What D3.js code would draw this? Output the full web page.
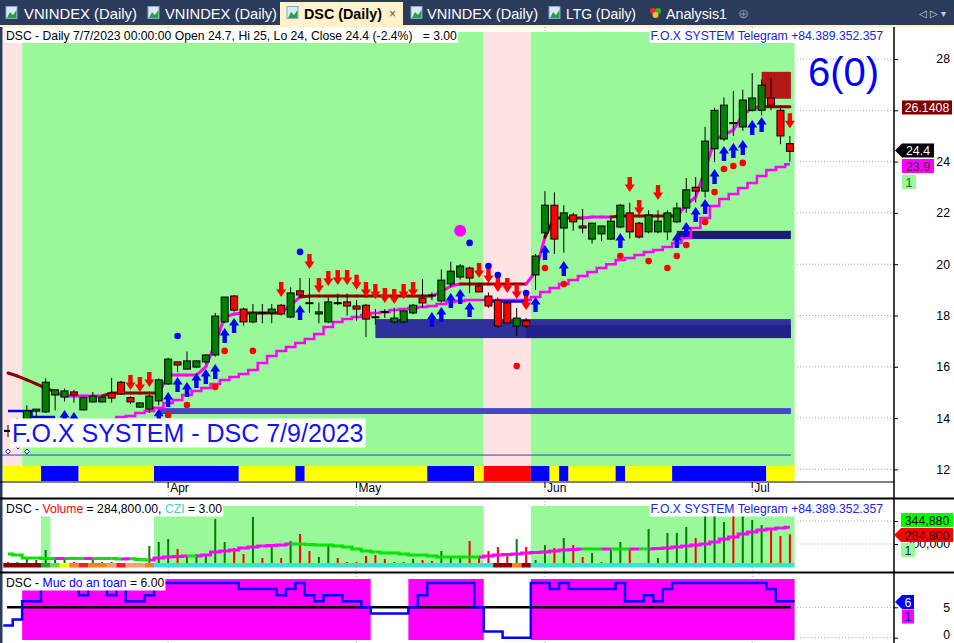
<!DOCTYPE html>
<html>
<head>
<meta charset="utf-8">
<script src="https://cdn.jsdelivr.net/npm/d3@7"></script>
<style>
  body { margin: 0; background: #fff; overflow: hidden; }
  svg { display: block; }
  text { font-family: "Liberation Sans", Arial, sans-serif; }
</style>
</head>
<body>
<div id="viz"></div>
<script>
// ---------- data ----------
var dates = [
  "2023-03-09","2023-03-10","2023-03-13","2023-03-14","2023-03-15","2023-03-16","2023-03-17","2023-03-20","2023-03-21","2023-03-22",
  "2023-03-23","2023-03-24","2023-03-27","2023-03-28","2023-03-29","2023-03-30","2023-03-31",
  "2023-04-03","2023-04-04","2023-04-05","2023-04-06","2023-04-07","2023-04-10","2023-04-11","2023-04-12","2023-04-13","2023-04-14",
  "2023-04-17","2023-04-18","2023-04-19","2023-04-20","2023-04-21","2023-04-24","2023-04-25","2023-04-26","2023-04-27","2023-04-28",
  "2023-05-04","2023-05-05","2023-05-08","2023-05-09","2023-05-10","2023-05-11","2023-05-12","2023-05-15","2023-05-16","2023-05-17",
  "2023-05-18","2023-05-19","2023-05-22","2023-05-23","2023-05-24","2023-05-25","2023-05-26","2023-05-29","2023-05-30","2023-05-31",
  "2023-06-01","2023-06-02","2023-06-05","2023-06-06","2023-06-07","2023-06-08","2023-06-09","2023-06-12","2023-06-13","2023-06-14",
  "2023-06-15","2023-06-16","2023-06-19","2023-06-20","2023-06-21","2023-06-22","2023-06-23","2023-06-26","2023-06-27","2023-06-28",
  "2023-06-29","2023-06-30","2023-07-03","2023-07-04","2023-07-05","2023-07-06","2023-07-07"
];
var monthStarts = ["2023-04-03", "2023-05-04", "2023-06-01", "2023-07-03"];
var monthLabels = ["Apr", "May", "Jun", "Jul"];

var open = [
  13.52,13.6,13.9,14.27,14.24,14.9,14.82,15.02,14.32,14.63,
  14.63,14.98,15.4,14.8,14.43,14.35,14.67,15.33,16.19,15.91,
  15.99,16.19,16.46,17.75,18.76,18.25,17.75,18.12,18.1,18.4,
  17.94,18.96,18.5,18.06,17.75,18.5,18.53,18.37,18.4,17.95,
  18.15,17.75,17.75,18.1,18.68,18.8,18.57,19.23,19.5,19.85,
  19.15,18.76,18.6,18.49,17.59,17.79,19.58,21.22,22.3,21.41,
  21.92,21.49,20.98,21.18,20.98,21.45,22.0,21.6,21.26,21.26,
  21.26,21.65,22.19,23.0,22.85,24.5,24.88,25.52,25.35,26.0,
  26.0,26.48,26.0,24.7];
var high = [
  13.73,14.0,14.5,14.35,15.55,15.1,15.15,15.1,14.85,15.02,
  14.85,15.57,15.45,14.85,14.62,14.9,15.55,16.35,16.2,16.6,
  16.26,16.5,18.1,18.72,18.8,18.3,18.45,18.45,18.45,18.45,
  19.1,19.46,19.46,18.5,18.7,18.85,18.85,18.6,18.45,18.25,
  18.25,18.3,18.2,18.45,19.42,18.9,19.8,20.1,20.0,19.9,
  19.2,18.9,18.7,18.55,18.29,17.9,20.4,22.85,22.8,22.3,
  22.0,22.15,21.6,21.5,21.8,22.35,22.4,21.65,22.1,22.1,
  22.1,22.4,23.36,23.4,25.35,26.1,26.5,26.75,26.8,27.45,
  27.2,27.26,26.1,25.0];
var low = [
  13.26,13.5,13.8,14.0,14.2,14.3,14.65,14.6,14.3,14.6,
  14.6,14.6,14.9,14.55,14.4,14.2,14.5,15.3,15.8,15.9,
  15.95,16.1,16.4,17.7,18.15,17.6,17.7,17.7,17.7,18.0,
  17.9,18.7,18.1,17.7,17.7,18.4,18.0,17.8,17.16,17.65,
  17.9,17.7,17.7,18.05,18.3,18.6,18.5,19.1,19.4,18.88,
  18.9,18.3,17.5,17.7,17.2,17.5,19.0,21.0,20.4,20.45,
  21.3,21.2,20.8,20.9,20.95,21.4,21.0,21.0,21.2,21.2,
  20.95,21.6,22.0,22.4,22.6,23.98,24.8,25.0,25.2,25.95,
  25.8,26.0,24.68,24.0];
var close = [
  13.5,13.9,14.28,14.35,15.4,15.1,15.06,14.9,14.8,14.86,
  14.82,14.78,14.94,14.63,14.59,14.86,15.49,16.3,16.07,16.23,
  16.23,16.46,17.98,18.72,18.21,17.75,18.1,18.1,18.25,18.06,
  18.88,18.8,18.49,18.14,18.53,18.49,18.37,18.25,17.86,17.94,
  18.14,17.9,18.18,18.4,18.49,18.79,19.38,19.73,19.93,19.46,
  18.92,18.37,17.59,17.71,17.9,17.59,20.32,22.3,20.98,22.0,
  21.65,21.41,21.6,21.49,21.68,22.3,21.26,21.06,21.92,21.68,
  22.0,22.19,22.9,22.85,24.8,26.0,26.2,25.5,26.4,26.48,
  26.98,26.2,25.0,24.4];

// resistance line (brown / magenta) and trailing stop staircase
var upperLine = [
  15.76,15.64,15.49,15.33,15.17,15.02,14.86,14.86,14.86,14.86,
  14.86,14.98,14.98,14.98,14.98,14.98,14.98,15.68,15.68,15.68,
  15.68,16.0,16.93,17.94,18.06,18.1,18.1,18.1,18.1,18.1,
  18.4,18.72,18.76,18.76,18.76,18.76,18.76,18.76,18.76,18.76,
  18.76,18.76,18.76,18.76,18.76,18.76,18.92,19.15,19.23,19.23,
  19.23,19.23,19.23,19.23,19.23,19.23,19.7,21.06,21.8,21.8,
  21.8,21.8,21.84,21.84,21.84,21.88,21.88,21.88,21.88,21.88,
  21.88,21.88,22.3,22.62,23.67,24.84,25.04,25.23,25.82,26.09,
  26.14,26.1408,26.1408,26.1408];
var upperColorRuns = [["b",6],["m",5],["b",6],["m",9],["b",4],["m",2],["b",14],["m",3],["b",7],["m",2],["b",4],["m",3],["b",7],["m",9],["b",3]];
var lowerLine = [
  null,null,null,null,null,null,null,null,null,null,
  13.85,13.93,14.04,14.08,14.2,14.28,14.4,14.59,14.71,14.9,
  15.06,15.17,15.33,15.49,15.6,15.72,15.88,16.15,16.42,16.62,
  16.77,16.93,17.08,17.28,17.55,17.75,17.86,17.94,18.02,18.1,
  18.14,18.21,18.25,18.29,18.33,18.37,18.45,18.53,18.57,18.6,
  18.6,18.6,18.6,18.6,18.6,18.6,18.72,18.92,19.07,19.23,
  19.38,19.54,19.7,19.85,20.0,20.16,20.24,20.36,20.48,20.55,
  20.67,20.83,21.02,21.41,21.8,22.27,22.54,22.74,22.97,23.17,
  23.44,23.67,23.79,23.9];
var blueLineIdx = [0,1,2,3,4,5,51,52,53,54,55];
var blueLineVal = [14.28,14.28,14.28,14.04,14.04,14.04,18.55,18.55,18.55,18.55,18.55];

// signals
var sellIdx = [13,14,15,29,32,33,34,35,36,37,38,39,40,41,42,43,50,51,52,53,54,55,66,67,69,83];
var sellTip = [15.1,15.02,15.21,18.72,19.81,18.88,19.15,19.19,19.19,19.0,18.72,18.64,18.49,18.45,18.64,18.72,19.46,19.27,18.92,18.88,18.64,18.21,22.81,21.92,22.5,25.3];
var buyIdx = [6,7,16,17,18,19,20,21,22,23,24,31,45,46,47,48,49,56,57,59,65,71,72,73,74,75,76,77,78,79,80];
var buyTip = [14.32,14.24,14.36,15.02,15.6,15.41,15.76,15.91,16.11,17.51,17.9,18.41,18.14,18.33,18.88,19.03,18.53,18.72,20.75,20.12,21.22,21.22,21.65,22.23,22.54,23.71,24.61,24.73,24.84,25.62,25.74];
var redDotIdx = [17,19,22,23,26,54,57,59,65,68,70,71,72,74,75,76,77,78];
var redDotVal = [14.12,14.51,15.21,16.62,16.62,16.03,19.85,19.23,20.32,20.12,19.85,20.32,20.75,21.65,22.81,23.71,23.83,23.95];
var blueDotIdx = [18,31,49,51,52,55];
var blueDotVal = [17.2,20.48,20.83,19.93,19.58,18.88];
var bigDotIdx = 48, bigDotVal = 21.3;

// support zones: from bar, to bar, low, high
var zoneFrom = [16, 39, 55, 71];
var zoneTo   = [83, 83, 83, 83];
var zoneLo   = [14.16, 17.12, 17.12, 20.98];
var zoneHi   = [14.39, 17.86, 17.62, 21.3];
var zoneFill = ["#4646c8", "#30309c", "#22228a", "#1c1c78"];
var boxFrom = 80, boxTo = 83, boxLo = 26.45, boxHi = 27.5;
var baseLineVal = 12.56;

// background states
var pinkZones = [[0, 1], [51, 55]];
var stripRuns = [["y",4],["b",4],["y",8],["b",9],["y",6],["b",1],["y",13],["b",5],["y",1],["r",5],["b",2],["y",1],["b",1],["y",5],["b",1],["y",5],["b",10],["y",3]];

// volume panel
var volume = [
  43000,43000,78000,61000,148000,70000,78000,43000,35000,61000,
  43000,43000,35000,35000,35000,183000,217000,243000,157000,96000,
  113000,96000,417000,217000,165000,113000,435000,78000,174000,78000,
  226000,287000,139000,87000,200000,78000,43000,43000,96000,104000,
  70000,43000,43000,70000,61000,52000,139000,87000,78000,226000,
  78000,139000,174000,122000,243000,174000,61000,191000,165000,252000,
  191000,87000,122000,43000,165000,217000,165000,35000,330000,78000,
  296000,296000,348000,252000,460000,470000,391000,450000,455000,409000,
  365000,322000,270000,284800];
var volMA = [
  113000,104000,78000,78000,74000,74000,75000,74000,74000,75000,
  74000,74000,70000,71000,65000,61000,78000,87000,91000,96000,
  96000,104000,130000,139000,148000,165000,174000,183000,187000,191000,
  200000,200000,196000,191000,191000,183000,174000,157000,139000,130000,
  122000,122000,113000,104000,104000,96000,87000,87000,87000,87000,
  87000,96000,104000,109000,113000,122000,126000,130000,139000,148000,
  152000,157000,157000,156000,157000,157000,156000,157000,157000,161000,
  165000,174000,183000,191000,200000,217000,243000,261000,287000,304000,
  322000,330000,339000,344880];
var volGreenZones = [[4, 4], [16, 50], [56, 83]];
var cziRuns = [["dr",4],["g",1],["lg",1],["y",1],["o",1],["r",1],["o",2],["s",1],["r",1],["s",2],["o",1],["c",36],["dr",2],["o",1],["dr",1],["c",28]];

// safety level panel (Muc do an toan)
var safety = [
  2,3,6,6,9,9,9,9,7,9,
  9,7,9,6,6,7,9,9,9,9,
  9,9,9,9,9,8,8,8,8,7,
  8,9,7,6,7,7,6,6,5,4,
  4,4,4,5,7,9,9,9,9,9,
  5,1,1,0,0,0,9,9,8,9,
  8,8,8,8,8,9,6,6,7,6,
  8,9,9,9,9,9,9,9,9,9,
  9,8,6,6];

var priceTicks = [12, 14, 16, 18, 20, 22, 24, 26, 28];
var volTicks = [200000, 400000];
var safetyTicks = [0, 5];
var tabs = ["VNINDEX (Daily)", "VNINDEX (Daily)", "DSC (Daily)", "VNINDEX (Daily)", "LTG (Daily)", "Analysis1"];

// ---------- helpers ----------
function expand(runs) {
  var out = [];
  runs.forEach(function(r) { for (var k = 0; k < r[1]; k++) out.push(r[0]); });
  return out;
}
function toRuns(codes) {
  var r = [];
  codes.forEach(function(c, i) {
    var last = r[r.length - 1];
    if (last && last.c === c) last.b = i; else r.push({c: c, a: i, b: i});
  });
  return r;
}
function inZones(i, zones) {
  return zones.some(function(z) { return i >= z[0] && i <= z[1]; });
}

var W = 954, H = 643, N = dates.length;
var FONT = '"Liberation Sans", Arial, sans-serif';

var svg = d3.select("#viz").append("svg").attr("width", W).attr("height", H);
svg.append("rect").attr("width", W).attr("height", H).attr("fill", "#fff");

var x = d3.scaleBand().domain(dates).range([3.3, 794.6]);
var bw = x.bandwidth();
function cx(i) { return x(dates[i]) + bw / 2; }
function left(i) { return x(dates[i]); }

var yP = d3.scaleLinear().domain([12, 28]).range([469.4, 59]);
var yV = d3.scaleLinear().domain([0, 400000]).range([567, 521]);
var yS = d3.scaleLinear().domain([0, 5]).range([637.7, 607.3]);

// ---------- tab bar ----------
svg.append("rect").attr("width", W).attr("height", 25).attr("fill", "#2b3b5c");
svg.append("rect").attr("x", 280).attr("y", 2).attr("width", 123).attr("height", 25).attr("fill", "#fff2c6");
svg.append("rect").attr("y", 25).attr("width", W).attr("height", 2.5).attr("fill", "#fff2c6");

var tabX = [6, 148, 287, 411, 549, 651];
var tabTextX = [24, 165, 304, 427, 566, 666];
var tabTextW = [113, 112, 78, 111, 70, 61];
tabs.forEach(function(t, k) {
  var active = k === 2;
  if (k < 5) {
    svg.append("rect").attr("x", tabX[k]).attr("y", 6.5).attr("width", 11).attr("height", 12)
      .attr("fill", "#dbe8f8").attr("stroke", "#7ea6d8").attr("stroke-width", 1);
    svg.append("path").attr("d", "M" + (tabX[k] + 1) + ",18 L" + (tabX[k] + 4) + ",12 L" + (tabX[k] + 7) + ",15 L" + (tabX[k] + 10.5) + ",10 L" + (tabX[k] + 10.5) + ",18 Z")
      .attr("fill", "#2e9e3e");
  } else {
    svg.append("circle").attr("cx", tabX[k] + 2).attr("cy", 11).attr("r", 3).attr("fill", "#e03030");
    svg.append("circle").attr("cx", tabX[k] + 7).attr("cy", 11).attr("r", 3).attr("fill", "#30b030");
    svg.append("circle").attr("cx", tabX[k] + 4.5).attr("cy", 15).attr("r", 3).attr("fill", "#f0c020");
  }
  svg.append("text").attr("x", tabTextX[k]).attr("y", 18.5)
    .attr("font-family", '"Noto Sans", "Open Sans", sans-serif')
    .attr("font-size", 14).attr("font-weight", active ? "bold" : "normal")
    .attr("fill", active ? "#000" : "#fff")
    .attr("textLength", tabTextW[k]).attr("lengthAdjust", "spacingAndGlyphs")
    .text(t);
});
svg.append("text").attr("x", 389).attr("y", 18).attr("font-size", 12).attr("fill", "#555").text("\u00d7");
svg.append("text").attr("x", 738).attr("y", 18).attr("font-size", 13).attr("fill", "#8090a8").text("\u2295");
svg.append("text").attr("x", 919).attr("y", 17).attr("font-size", 10).attr("fill", "#c8d0e0").text("\u25c1 \u25b7 \u25be");

// ---------- month dotted verticals ----------
svg.selectAll("line.mgrid").data(monthStarts).enter().append("line")
  .attr("x1", function(d) { return x(d) + bw / 2; }).attr("x2", function(d) { return x(d) + bw / 2; })
  .attr("y1", 27).attr("y2", H)
  .attr("stroke", "#aaa").attr("stroke-dasharray", "1,2");

// ---------- main panel backgrounds ----------
var bgCodes = dates.map(function(d, i) { return inZones(i, pinkZones) ? "p" : "g"; });
svg.selectAll("rect.bg").data(toRuns(bgCodes)).enter().append("rect")
  .attr("x", function(r) { return left(r.a); })
  .attr("width", function(r) { return left(r.b) + bw - left(r.a); })
  .attr("y", 32).attr("height", 434)
  .attr("fill", function(r) { return r.c === "p" ? "#ffe2e2" : "#99f899"; });

var stripCol = {y: "#ffff00", b: "#0000ff", r: "#ff0000"};
svg.selectAll("rect.strip").data(toRuns(expand(stripRuns))).enter().append("rect")
  .attr("x", function(r) { return left(r.a); })
  .attr("width", function(r) { return left(r.b) + bw - left(r.a); })
  .attr("y", 466).attr("height", 15)
  .attr("fill", function(r) { return stripCol[r.c]; });

// price grid (only visible in the white margin)
svg.selectAll("line.pgrid").data(priceTicks).enter().append("line")
  .attr("x1", 797).attr("x2", 894)
  .attr("y1", function(d) { return yP(d); }).attr("y2", function(d) { return yP(d); })
  .attr("stroke", "#aaa").attr("stroke-dasharray", "1,2");

// zones, box, base line
var main = svg.append("g");
main.selectAll("rect.zone").data(zoneFrom).enter().append("rect")
  .attr("x", function(d) { return cx(d); })
  .attr("width", function(d, k) { return cx(zoneTo[k]) + 1 - cx(d); })
  .attr("y", function(d, k) { return yP(zoneHi[k]); })
  .attr("height", function(d, k) { return yP(zoneLo[k]) - yP(zoneHi[k]); })
  .attr("fill", function(d, k) { return zoneFill[k]; });
main.append("rect").attr("x", cx(boxFrom)).attr("width", cx(boxTo) + 1 - cx(boxFrom))
  .attr("y", yP(boxHi)).attr("height", yP(boxLo) - yP(boxHi)).attr("fill", "#b31818");
main.append("line").attr("x1", 0).attr("x2", cx(N - 1) + 1)
  .attr("y1", yP(baseLineVal)).attr("y2", yP(baseLineVal)).attr("stroke", "#3a3ad0").attr("stroke-width", 1);

// lines
main.append("path").datum(d3.range(N).filter(function(i) { return lowerLine[i] !== null; }))
  .attr("d", d3.line().x(cx).y(function(i) { return yP(lowerLine[i]); }).curve(d3.curveStep))
  .attr("fill", "none").attr("stroke", "#ff00ff").attr("stroke-width", 2.5);

var upperCodes = expand(upperColorRuns);
main.selectAll("line.upper").data(d3.range(1, N)).enter().append("line")
  .attr("x1", function(i) { return cx(i - 1); }).attr("y1", function(i) { return yP(upperLine[i - 1]); })
  .attr("x2", function(i) { return cx(i); }).attr("y2", function(i) { return yP(upperLine[i]); })
  .attr("stroke", function(i) { return upperCodes[i] === "m" ? "#ff00ff" : "#8b0000"; })
  .attr("stroke-width", 3).attr("stroke-linecap", "round");

[[0, 6], [6, 11]].forEach(function(seg) {
  var pts = d3.range(seg[0], seg[1]);
  main.append("path").datum(pts)
    .attr("d", d3.line().x(function(k) { return cx(blueLineIdx[k]); }).y(function(k) { return yP(blueLineVal[k]); }).curve(d3.curveStep))
    .attr("fill", "none").attr("stroke", "#0000ff").attr("stroke-width", 2.5);
});

// candles
var candles = main.selectAll("g.candle").data(d3.range(N)).enter().append("g");
candles.append("line")
  .attr("x1", cx).attr("x2", cx)
  .attr("y1", function(i) { return yP(high[i]); }).attr("y2", function(i) { return yP(low[i]); })
  .attr("stroke", "#000").attr("stroke-width", 1);
candles.append("rect")
  .attr("x", function(i) { return cx(i) - 3.5; }).attr("width", 7)
  .attr("y", function(i) { return yP(Math.max(open[i], close[i])); })
  .attr("height", function(i) { return Math.max(1, Math.abs(yP(open[i]) - yP(close[i]))); })
  .attr("fill", function(i) { return close[i] >= open[i] ? "#008000" : "#ff0000"; })
  .attr("stroke", "#000").attr("stroke-width", 1);

// arrows and dots
var upArrow = "M0,0 L5,7.5 L2.2,7.5 L2.2,15 L-2.2,15 L-2.2,7.5 L-5,7.5 Z";
var downArrow = "M0,0 L5,-7.5 L2.2,-7.5 L2.2,-15 L-2.2,-15 L-2.2,-7.5 L-5,-7.5 Z";
main.selectAll("path.buy").data(buyIdx).enter().append("path")
  .attr("d", upArrow).attr("fill", "#0000ff")
  .attr("transform", function(i, k) { return "translate(" + cx(i) + "," + yP(buyTip[k]) + ")"; });
main.selectAll("path.sell").data(sellIdx).enter().append("path")
  .attr("d", downArrow).attr("fill", "#ff0000")
  .attr("transform", function(i, k) { return "translate(" + cx(i) + "," + yP(sellTip[k]) + ")"; });
main.selectAll("circle.rd").data(redDotIdx).enter().append("circle")
  .attr("cx", cx).attr("cy", function(i, k) { return yP(redDotVal[k]); }).attr("r", 3.3).attr("fill", "#ff0000");
main.selectAll("circle.bd").data(blueDotIdx).enter().append("circle")
  .attr("cx", cx).attr("cy", function(i, k) { return yP(blueDotVal[k]); }).attr("r", 3.3).attr("fill", "#0000ff");
main.append("circle").attr("cx", cx(bigDotIdx)).attr("cy", yP(bigDotVal)).attr("r", 6).attr("fill", "#ff00ff");

// tiny markers bottom-left
[[8, 451.5], [27, 451.5]].forEach(function(p) {
  svg.append("path").attr("d", "M" + p[0] + "," + (p[1] - 2.5) + " l2.5,2.5 l-2.5,2.5 l-2.5,-2.5 Z")
    .attr("fill", "#fff").attr("stroke", "#2020e0").attr("stroke-width", 1);
});
svg.append("path").attr("d", "M15,446 l3,3 l3,-3").attr("fill", "none").attr("stroke", "#2020e0").attr("stroke-width", 1);

// ---------- volume panel ----------
var volCodes = dates.map(function(d, i) { return inZones(i, volGreenZones) ? "g" : "w"; });
svg.selectAll("rect.vbg").data(toRuns(volCodes).filter(function(r) { return r.c === "g"; })).enter().append("rect")
  .attr("x", function(r) { return left(r.a); })
  .attr("width", function(r) { return left(r.b) + bw - left(r.a); })
  .attr("y", 506).attr("height", 57).attr("fill", "#99f899");

var cziCol = {dr: "#8b0000", g: "#22aa22", lg: "#66dd44", y: "#ffff00", o: "#ff7f27", r: "#ee2222", s: "#ffa070", c: "#40e0d0"};
svg.selectAll("rect.czi").data(toRuns(expand(cziRuns))).enter().append("rect")
  .attr("x", function(r) { return left(r.a); })
  .attr("width", function(r) { return left(r.b) + bw - left(r.a); })
  .attr("y", 563).attr("height", 4.5)
  .attr("fill", function(r) { return cziCol[r.c]; });

svg.selectAll("line.vgrid").data(volTicks).enter().append("line")
  .attr("x1", 797).attr("x2", 894)
  .attr("y1", function(d) { return yV(d); }).attr("y2", function(d) { return yV(d); })
  .attr("stroke", "#aaa").attr("stroke-dasharray", "1,2");

svg.selectAll("rect.vol").data(d3.range(N)).enter().append("rect")
  .attr("x", function(i) { return cx(i) - 1; }).attr("width", 2)
  .attr("y", function(i) { return yV(volume[i]); })
  .attr("height", function(i) { return 563 - yV(volume[i]); })
  .attr("fill", function(i) { return close[i] >= open[i] ? "#008000" : "#ff0000"; });

svg.selectAll("line.vma").data(d3.range(1, N)).enter().append("path")
  .attr("d", function(i) {
    var xm = (cx(i - 1) + cx(i)) / 2;
    return "M" + cx(i - 1) + "," + yV(volMA[i - 1]) + " H" + xm + " V" + yV(volMA[i]) + " H" + cx(i);
  })
  .attr("fill", "none").attr("stroke-width", 3)
  .attr("stroke", function(i) { return volMA[i] > volMA[i - 1] ? "#ff00ff" : "#00e400"; });

// ---------- safety panel ----------
var safeCodes = safety.map(function(v) { return v >= 5 ? "m" : "w"; });
svg.selectAll("rect.sbg").data(toRuns(safeCodes).filter(function(r) { return r.c === "m"; })).enter().append("rect")
  .attr("x", function(r) { return left(r.a); })
  .attr("width", function(r) { return left(r.b) + bw - left(r.a); })
  .attr("y", 579).attr("height", 61).attr("fill", "#ff00ff");

svg.selectAll("line.sgrid").data(safetyTicks).enter().append("line")
  .attr("x1", 797).attr("x2", 894)
  .attr("y1", function(d) { return yS(d); }).attr("y2", function(d) { return yS(d); })
  .attr("stroke", "#aaa").attr("stroke-dasharray", "1,2");

svg.append("line").attr("x1", 7).attr("x2", cx(N - 1) + 1)
  .attr("y1", yS(5)).attr("y2", yS(5)).attr("stroke", "#000").attr("stroke-width", 2.5);

var safePts = [];
safety.forEach(function(v, i) { safePts.push([left(i), yS(v)]); safePts.push([left(i) + bw, yS(v)]); });
svg.append("path").datum(safePts).attr("d", d3.line())
  .attr("fill", "none").attr("stroke", "#0000ff").attr("stroke-width", 2.5);

// ---------- borders and axes ----------
svg.append("rect").attr("x", 0).attr("y", 27).attr("width", 2.5).attr("height", H - 27).attr("fill", "#2b3b5c");
svg.append("line").attr("x1", 0).attr("x2", 894).attr("y1", 482).attr("y2", 482).attr("stroke", "#000");
svg.append("line").attr("x1", 0).attr("x2", W).attr("y1", 498.5).attr("y2", 498.5).attr("stroke", "#000").attr("stroke-width", 2);
svg.append("line").attr("x1", 0).attr("x2", W).attr("y1", 572.5).attr("y2", 572.5).attr("stroke", "#000").attr("stroke-width", 2);
svg.append("line").attr("x1", 894).attr("x2", 894).attr("y1", 27).attr("y2", H).attr("stroke", "#000").attr("stroke-width", 1.5);

var dateAxis = svg.append("g").attr("transform", "translate(0,482)")
  .call(d3.axisBottom(x).tickValues(monthStarts).tickSize(6).tickFormat(function(d, k) { return monthLabels[k]; }));
dateAxis.select(".domain").remove();
dateAxis.selectAll("text").attr("x", 2).attr("y", 1.5).attr("text-anchor", "start")
  .attr("font-family", FONT).attr("font-size", 12).attr("fill", "#000");

function rightAxis(scale, ticks, fmt) {
  var g = svg.append("g").attr("transform", "translate(894,0)")
    .call(d3.axisRight(scale).tickValues(ticks).tickSize(4).tickFormat(fmt));
  g.select(".domain").remove();
  g.selectAll("text").attr("x", 56).attr("text-anchor", "end")
    .attr("font-family", FONT).attr("font-size", 12.3).attr("fill", "#000");
  return g;
}
// the 26 label sits under the resistance tag, as in the original
rightAxis(yP, priceTicks, function(d) { return d === 26 ? "" : d3.format("d")(d); });
rightAxis(yV, volTicks, d3.format(","));
var sAxis = rightAxis(yS, safetyTicks, d3.format("d"));
sAxis.selectAll("text").attr("dy", function(d) { return d === 0 ? "0.05em" : "0.32em"; });

// ---------- value tags on the right ----------
function tag(yc, txt, x0, w, fill, color, notch) {
  var g = svg.append("g");
  if (notch) {
    g.append("path").attr("d", "M" + (x0 - 7) + "," + yc + " L" + x0 + "," + (yc - 7) + " H" + (x0 + w) + " V" + (yc + 7) + " H" + x0 + " Z").attr("fill", fill);
  } else {
    g.append("rect").attr("x", x0).attr("y", yc - 7).attr("width", w).attr("height", 14).attr("fill", fill);
  }
  g.append("text").attr("x", x0 + w / 2).attr("y", yc + 4.5).attr("text-anchor", "middle")
    .attr("font-size", 12.3).attr("fill", color).text(txt);
}
tag(107.5, "26.1408", 902, 50, "#800000", "#fff", false);
tag(150.5, close[N - 1].toString(), 902, 32, "#000", "#fff", true);
tag(166, lowerLine[N - 1].toString(), 902, 32, "#ff00ff", "#333", false);
tag(182, "1", 902, 14, "#99f899", "#226622", false);
tag(520, d3.format(",")(volMA[N - 1]), 901, 52, "#00ff00", "#000", false);
tag(535, d3.format(",")(volume[N - 1]), 901, 52, "#ff0000", "#200", true);
tag(550, "1", 901, 14, "#99f899", "#202060", false);
tag(602, safety[N - 1].toString(), 902, 12, "#0000ff", "#fff", true);
tag(616.5, "1", 902, 12, "#ff00ff", "#202060", false);

// ---------- titles ----------
function boxedText(xp, yb, parts, size, anchor, pad) {
  var g = svg.append("g");
  var bgRect = g.append("rect").attr("fill", "#fff");
  var t = g.append("text").attr("x", xp).attr("y", yb).attr("font-size", size)
    .attr("text-anchor", anchor || "start").style("white-space", "pre");
  parts.forEach(function(p) { t.append("tspan").attr("fill", p[1]).text(p[0]); });
  var bb = t.node().getBBox();
  pad = pad || 1;
  bgRect.attr("x", bb.x - pad).attr("y", bb.y - 0.5).attr("width", bb.width + 2 * pad).attr("height", bb.height + 1);
}
boxedText(6, 39.5, [["DSC - Daily 7/7/2023 00:00:00 Open 24.7, Hi 25, Lo 24, Close 24.4 (-2.4%)\u00a0\u00a0\u00a0= 3.00", "#000"]], 12.2);
boxedText(883, 39.5, [["F.O.X SYSTEM Telegram +84.389.352.357", "#2020f0"]], 12.2, "end");
boxedText(6, 513, [["DSC - ", "#000"], ["Volume", "#ff0000"], [" = 284,800.00, ", "#000"], ["CZI", "#40d0d0"], [" = 3.00", "#000"]], 12.2);
boxedText(883, 513, [["F.O.X SYSTEM Telegram +84.389.352.357", "#2020f0"]], 12.2, "end");
boxedText(6, 587, [["DSC - ", "#000"], ["Muc do an toan", "#0000ff"], [" = 6.00", "#000"]], 12.2);
boxedText(12, 442, [["F.O.X SYSTEM - DSC 7/9/2023", "#1414f0"]], 25, "start", 2);

svg.append("text").attr("x", 808).attr("y", 86).attr("font-size", 40).attr("fill", "#0000ff").text("6(0)");
</script>
</body>
</html>
